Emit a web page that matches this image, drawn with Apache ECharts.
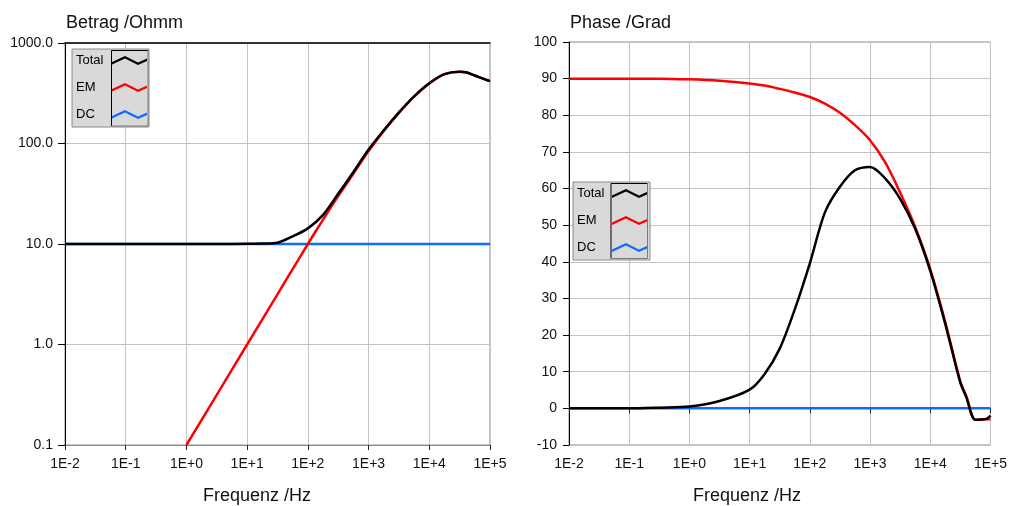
<!DOCTYPE html>
<html>
<head>
<meta charset="utf-8">
<script src="https://cdn.jsdelivr.net/npm/echarts@6/dist/echarts.min.js"></script>
<style>
html,body{margin:0;padding:0;background:#fff;}
#chart{width:1010px;height:506px;}
</style>
</head>
<body>
<div id="chart"></div>
<script>
// ---- data ----
const freqs = [0.01, 0.1, 0.316, 1, 3.16, 10, 17.8, 31.6, 56.2, 100, 178, 316, 562, 1000, 1778, 3162, 5623, 10000, 17783, 31623, 39811, 56234, 85114, 100000];
const magTotal = [10, 10, 10, 10, 10, 10.05, 10.1, 10.3, 11.9, 14.3, 19.5, 31.6, 52, 87, 135, 204, 295, 398, 490, 519, 512, 475, 432, 417];
const magEM = [null, null, null, 0.1, 0.316, 1.0, 1.78, 3.16, 5.62, 10, 17.5, 30, 50, 84, 133, 202, 293, 395, 490, 519, 512, 475, 432, 417];
const magDC = [10, 10, 10, 10, 10, 10, 10, 10, 10, 10, 10, 10, 10, 10, 10, 10, 10, 10, 10, 10, 10, 10, 10, 10];
const phaseTotal = [0, 0, 0.2, 0.5, 2.0, 5.1, 9.4, 16.3, 27, 39.6, 53.5, 60.5, 65, 65.9, 62.8, 57.2, 49.0, 37.5, 23, 7, 3, -3.1, -2.9, -2];
const phaseEM = [90, 90, 90, 89.8, 89.4, 88.7, 88.1, 87.2, 86.2, 85.0, 83.2, 80.7, 77.3, 73.2, 67.2, 58.9, 49.5, 38, 23.5, 7.3, 3.3, -3.1, -3, -3];
const phaseDC = [0, 0, 0, 0, 0, 0, 0, 0, 0, 0, 0, 0, 0, 0, 0, 0, 0, 0, 0, 0, 0, 0, 0, 0];
const seriesNames = ['Total', 'EM', 'DC'];
const xTickLabels = ['1E-2', '1E-1', '1E+0', '1E+1', '1E+2', '1E+3', '1E+4', '1E+5'];
const magTickLabels = ['0.1', '1.0', '10.0', '100.0', '1000.0'];
const titles = ['Betrag /Ohmm', 'Phase /Grad'];
const xName = 'Frequenz /Hz';

const colors = { Total: '#000000', EM: '#ff0000', DC: '#0f6cff' };
const FONT = "'Liberation Sans', Arial, sans-serif";

function pairs(vals) { return freqs.map((f, i) => [f, vals[i]]); }

const zig = 'path://M0,7 L14,0.5 L27,7 L36,3 L36,5.5 L27,9.5 L14,3 L0,9.5 Z';

function mkSeries(name, vals, xi, yi) {
  return {
    name: name, type: 'line', xAxisIndex: xi, yAxisIndex: yi,
    data: pairs(vals), showSymbol: false, symbol: 'none',
    smooth: 0.3,
    lineStyle: { color: colors[name], width: 2.5 },
    itemStyle: { color: colors[name] },
    emphasis: { disabled: true },
    animation: false
  };
}

function mkLegend(left, top) {
  return {
    orient: 'vertical', left: left, top: top, align: 'right',
    data: seriesNames.map(n => ({ name: n, icon: zig })),
    itemWidth: 36, itemHeight: 10, itemGap: 14,
    padding: [5, 2, 6, 4],
    backgroundColor: '#d9d9d9', borderColor: '#8a8a8a', borderWidth: 1,
    itemStyle: { borderWidth: 0 },
    selectedMode: false,
    formatter: n => '{a|' + n + '}',
    textStyle: {
      rich: { a: { width: 30, align: 'left', fontSize: 13, lineHeight: 16, fontFamily: FONT, color: '#000' } }
    }
  };
}

const xAxisCommon = {
  type: 'log', logBase: 10, min: 0.01, max: 100000,
  axisLine: { show: true, lineStyle: { color: '#8c8c8c', width: 1 } },
  axisTick: { show: true, length: 5, lineStyle: { color: '#222' } },
  axisLabel: { fontSize: 14, fontFamily: FONT, color: '#111', margin: 12, showMinLabel: true, showMaxLabel: true,
    formatter: v => xTickLabels[Math.round(Math.log10(v)) + 2] },
  splitLine: { show: true, lineStyle: { color: '#c4c4c4', width: 1 } },
  minorTick: { show: false }, minorSplitLine: { show: false }
};

const option = {
  backgroundColor: '#ffffff',
  animation: false,
  title: [
    { text: titles[0], left: 66, top: 14, padding: 0, textStyle: { fontSize: 18, fontWeight: 'normal', fontFamily: FONT, color: '#111' } },
    { text: titles[1], left: 570, top: 14, padding: 0, textStyle: { fontSize: 18, fontWeight: 'normal', fontFamily: FONT, color: '#111' } }
  ],
  legend: [mkLegend(72, 49), mkLegend(573, 182)],
  grid: [
    { left: 65, top: 43, width: 425, height: 402, show: true, borderColor: '#8c8c8c', borderWidth: 1, containLabel: false },
    { left: 569, top: 42, width: 422, height: 403, show: true, borderColor: '#8c8c8c', borderWidth: 1, containLabel: false }
  ],
  xAxis: [
    Object.assign({ gridIndex: 0 }, xAxisCommon),
    Object.assign({ gridIndex: 1 }, xAxisCommon),
    { gridIndex: 0, type: 'log', logBase: 10, min: 0.01, max: 100000, position: 'top',
      axisLine: { show: true, lineStyle: { color: '#000', width: 1.5 } }, axisTick: { show: false },
      axisLabel: { show: false }, splitLine: { show: false } }
  ],
  yAxis: [
    { gridIndex: 0, type: 'log', logBase: 10, min: 0.1, max: 1000,
      axisLine: { show: true, lineStyle: { color: '#000', width: 1 } },
      axisTick: { show: true, length: 7, lineStyle: { color: '#000' } },
      axisLabel: { fontSize: 14, fontFamily: FONT, color: '#111', margin: 12, showMinLabel: true, showMaxLabel: true,
        formatter: v => magTickLabels[Math.round(Math.log10(v)) + 1] },
      splitLine: { show: true, lineStyle: { color: '#c4c4c4', width: 1 } },
      minorTick: { show: false }, minorSplitLine: { show: false } },
    { gridIndex: 1, type: 'value', min: -10, max: 100, interval: 10,
      axisLine: { show: true, lineStyle: { color: '#000', width: 1 } },
      axisTick: { show: true, length: 6, lineStyle: { color: '#000' } },
      axisLabel: { fontSize: 14, fontFamily: FONT, color: '#111', margin: 12 },
      splitLine: { show: true, lineStyle: { color: '#c4c4c4', width: 1 } } }
  ],
  series: [
    mkSeries('DC', magDC, 0, 0),
    mkSeries('EM', magEM, 0, 0),
    mkSeries('Total', magTotal, 0, 0),
    mkSeries('DC', phaseDC, 1, 1),
    mkSeries('EM', phaseEM, 1, 1),
    mkSeries('Total', phaseTotal, 1, 1)
  ],
  graphic: [
    { type: 'text', x: 257, y: 496, z: 10, style: { text: xName, font: '18px ' + FONT, fill: '#111', align: 'center', verticalAlign: 'middle' } },
    { type: 'text', x: 747, y: 496, z: 10, style: { text: xName, font: '18px ' + FONT, fill: '#111', align: 'center', verticalAlign: 'middle' } },
    { type: 'polyline', z: 100, shape: { points: [[148, 50.5], [111.5, 50.5], [111.5, 126]] }, style: { stroke: '#000', lineWidth: 1, fill: null } },
    { type: 'polyline', z: 100, shape: { points: [[111.5, 126], [148, 126], [148, 50.5]] }, style: { stroke: '#7a7a7a', lineWidth: 1, fill: null } },
    { type: 'polyline', z: 100, shape: { points: [[647.5, 183.5], [611, 183.5], [611, 258.5]] }, style: { stroke: '#000', lineWidth: 1, fill: null } },
    { type: 'polyline', z: 100, shape: { points: [[611, 258.5], [647.5, 258.5], [647.5, 183.5]] }, style: { stroke: '#7a7a7a', lineWidth: 1, fill: null } }
  ]
};

const chart = echarts.init(document.getElementById('chart'), null, { renderer: 'canvas' });
chart.setOption(option);
</script>
</body>
</html>
